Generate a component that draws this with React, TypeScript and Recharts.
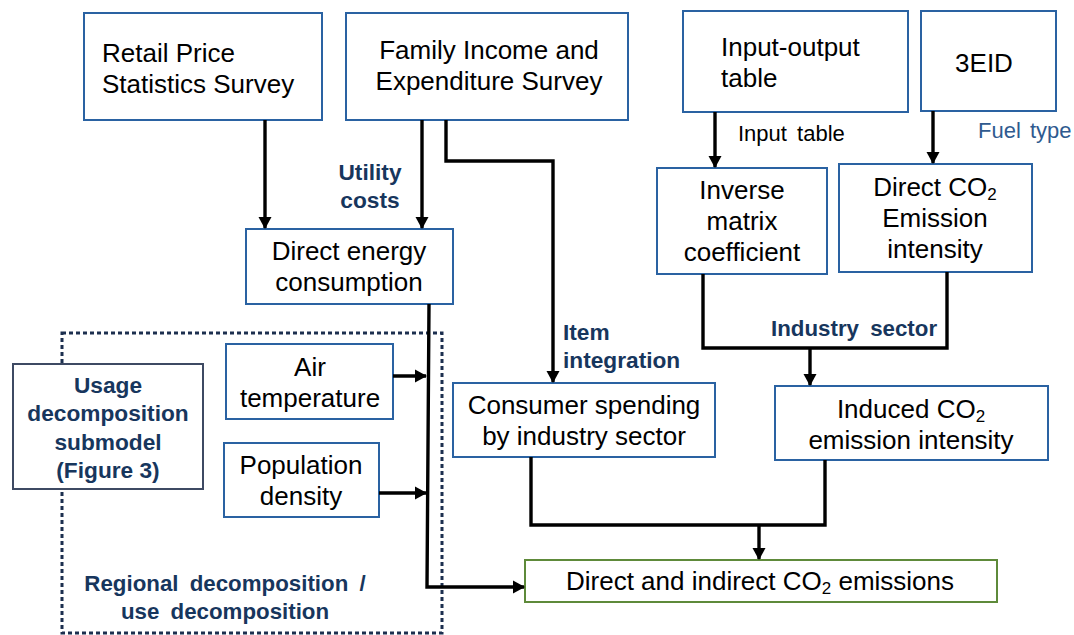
import { ComposedChart, XAxis, YAxis, Scatter, ReferenceArea } from 'recharts';

const W = 1074;
const H = 635;

// boxes, in chart units (x to the right, y downward)
const blueBoxes = [
  { id: 'retail', x1: 84, x2: 322, y1: 13, y2: 120 },
  { id: 'family', x1: 346, x2: 628, y1: 13, y2: 120 },
  { id: 'io', x1: 683, x2: 908, y1: 11, y2: 112 },
  { id: 'eid', x1: 921, x2: 1056, y1: 11, y2: 111 },
  { id: 'inverse', x1: 657, x2: 827, y1: 168, y2: 274 },
  { id: 'directCo2', x1: 839, x2: 1032, y1: 164, y2: 272 },
  { id: 'directEnergy', x1: 246, x2: 453, y1: 229, y2: 304 },
  { id: 'air', x1: 226, x2: 393, y1: 344, y2: 419 },
  { id: 'population', x1: 224, x2: 379, y1: 443, y2: 517 },
  { id: 'consumer', x1: 453, x2: 715, y1: 383, y2: 457 },
  { id: 'induced', x1: 775, x2: 1048, y1: 386, y2: 460 },
];
const submodelBox = { x1: 13, x2: 203, y1: 364, y2: 489 };
const resultBox = { x1: 525, x2: 997, y1: 560, y2: 602 };
const regionFrame = { x1: 62, x2: 442, y1: 333, y2: 633 };

// connector polylines
const connectors = [
  [{ x: 265, y: 120 }, { x: 265, y: 228 }],
  [{ x: 422, y: 120 }, { x: 422, y: 228 }],
  [{ x: 446, y: 120 }, { x: 446, y: 161 }, { x: 553, y: 161 }, { x: 553, y: 382 }],
  [{ x: 715, y: 112 }, { x: 715, y: 167 }],
  [{ x: 933, y: 111 }, { x: 933, y: 163 }],
  [{ x: 703, y: 274 }, { x: 703, y: 348 }, { x: 947, y: 348 }, { x: 947, y: 272 }],
  [{ x: 810, y: 348 }, { x: 810, y: 385 }],
  [{ x: 393, y: 376 }, { x: 426, y: 376 }],
  [{ x: 379, y: 493 }, { x: 426, y: 493 }],
  [{ x: 429, y: 304 }, { x: 427, y: 587 }, { x: 524, y: 587 }],
  [{ x: 531, y: 457 }, { x: 531, y: 525 }, { x: 825, y: 525 }, { x: 825, y: 460 }],
  [{ x: 759, y: 525 }, { x: 759, y: 559 }],
];

// arrow tips
const arrows = [
  { x: 265, y: 229, dir: 'down' },
  { x: 422, y: 229, dir: 'down' },
  { x: 553, y: 383, dir: 'down' },
  { x: 715, y: 168, dir: 'down' },
  { x: 933, y: 164, dir: 'down' },
  { x: 810, y: 386, dir: 'down' },
  { x: 759, y: 560, dir: 'down' },
  { x: 427, y: 376, dir: 'right' },
  { x: 427, y: 493, dir: 'right' },
  { x: 525, y: 587, dir: 'right' },
];

// texts: first line position, kind, anchor
const labels = [
  { x: 102, y: 53, kind: 'body', anchor: 'start', lines: ['Retail Price', 'Statistics Survey'] },
  { x: 489, y: 50, kind: 'body', anchor: 'middle', lines: ['Family Income and', 'Expenditure Survey'] },
  { x: 721, y: 47, kind: 'body', anchor: 'start', lines: ['Input-output', 'table'] },
  { x: 984, y: 63, kind: 'body', anchor: 'middle', lines: ['3EID'] },
  { x: 738, y: 133, kind: 'small', anchor: 'start', lines: ['Input table'] },
  { x: 978, y: 130, kind: 'fuel', anchor: 'start', lines: ['Fuel type'] },
  { x: 370, y: 172, kind: 'note', anchor: 'middle', lines: ['Utility', 'costs'] },
  { x: 349, y: 251, kind: 'body', anchor: 'middle', lines: ['Direct energy', 'consumption'] },
  { x: 742, y: 190, kind: 'body', anchor: 'middle', lines: ['Inverse', 'matrix', 'coefficient'] },
  { x: 935, y: 187, kind: 'body', anchor: 'middle', lines: ['Direct CO2', 'Emission', 'intensity'] },
  { x: 771, y: 328, kind: 'noteWide', anchor: 'start', lines: ['Industry sector'] },
  { x: 563, y: 332, kind: 'note', anchor: 'start', lines: ['Item', 'integration'] },
  { x: 108, y: 385, kind: 'note', anchor: 'middle', lines: ['Usage', 'decomposition', 'submodel', '(Figure 3)'] },
  { x: 310, y: 367, kind: 'body', anchor: 'middle', lines: ['Air', 'temperature'] },
  { x: 301, y: 465, kind: 'body', anchor: 'middle', lines: ['Population', 'density'] },
  { x: 584, y: 405, kind: 'body', anchor: 'middle', lines: ['Consumer spending', 'by industry sector'] },
  { x: 911, y: 409, kind: 'body', anchor: 'middle', lines: ['Induced CO2', 'emission intensity'] },
  { x: 225, y: 583, kind: 'noteWide', anchor: 'middle', lines: ['Regional decomposition /', 'use decomposition'] },
  { x: 760, y: 581, kind: 'body', anchor: 'middle', lines: ['Direct and indirect CO2 emissions'] },
];

const FONT = '"Liberation Sans", Arial, sans-serif';

const textStyles: Record<string, any> = {
  body: { fontSize: 26, fill: '#000', fontWeight: 400, lh: 31, wordSpacing: 0 },
  note: { fontSize: 22.7, fill: '#17365d', fontWeight: 700, lh: 28.3, wordSpacing: 0 },
  noteWide: { fontSize: 22.3, fill: '#17365d', fontWeight: 700, lh: 28, wordSpacing: 5 },
  small: { fontSize: 22, fill: '#000', fontWeight: 400, lh: 26, wordSpacing: 4 },
  fuel: { fontSize: 22, fill: '#2f5a8f', fontWeight: 400, lh: 26, wordSpacing: 3 },
};

const BLUE = '#2a62a2';

function withSubscript(s: string) {
  const parts = s.split('CO2');
  const out: any[] = [];
  parts.forEach((p, i) => {
    const txt = i < parts.length - 1 ? p + 'CO' : p;
    if (i === 0) {
      out.push(<tspan key={'p' + i}>{txt}</tspan>);
    } else {
      out.push(
        <tspan key={'r' + i} dy={-7}>
          {txt}
        </tspan>
      );
    }
    if (i < parts.length - 1) {
      out.push(
        <tspan key={'s' + i} dy={7} fontSize={17}>
          2
        </tspan>
      );
    }
  });
  return out;
}

const LabelShape = (props: any) => {
  const { cx, cy, payload } = props;
  const st = textStyles[payload.kind];
  return (
    <g>
      {payload.lines.map((line: string, i: number) => (
        <text
          key={i}
          x={cx}
          y={cy + i * st.lh}
          textAnchor={payload.anchor}
          dominantBaseline="central"
          fontFamily={FONT}
          fontSize={st.fontSize}
          fontWeight={st.fontWeight}
          fill={st.fill}
          style={{ whiteSpace: 'pre', wordSpacing: st.wordSpacing }}
        >
          {withSubscript(line)}
        </text>
      ))}
    </g>
  );
};

const ArrowShape = (props: any) => {
  const { cx, cy, payload } = props;
  const L = 12;
  const hw = 6.5;
  const d =
    payload.dir === 'down'
      ? `M${cx},${cy} L${cx - hw},${cy - L} L${cx + hw},${cy - L} Z`
      : `M${cx},${cy} L${cx - L},${cy - hw} L${cx - L},${cy + hw} Z`;
  return <path d={d} fill="#000" />;
};

const NoDot = () => <g />;

export default function App() {
  return (
    <div style={{ position: 'absolute', left: 0, top: 0, width: W, height: H, background: '#fff' }}>
      <ComposedChart width={W} height={H} margin={{ top: 0, right: 0, bottom: 0, left: 0 }}>
        <XAxis type="number" dataKey="x" domain={[0, W]} allowDataOverflow hide />
        <YAxis type="number" dataKey="y" domain={[0, H]} allowDataOverflow reversed hide />

        <ReferenceArea
          {...regionFrame}
          fill="#fff"
          fillOpacity={0}
          stroke="#1c2f4f"
          strokeWidth={3}
          strokeDasharray="4 3"
          ifOverflow="visible"
        />
        {blueBoxes.map((b) => (
          <ReferenceArea
            key={b.id}
            x1={b.x1}
            x2={b.x2}
            y1={b.y1}
            y2={b.y2}
            fill="#fff"
            fillOpacity={1}
            stroke={BLUE}
            strokeWidth={2}
          />
        ))}
        <ReferenceArea {...submodelBox} fill="#fff" fillOpacity={1} stroke="#3e4a63" strokeWidth={2} />
        <ReferenceArea {...resultBox} fill="#fff" fillOpacity={1} stroke="#5e8a3a" strokeWidth={2} />

        {connectors.map((pts, i) => (
          <Scatter
            key={'c' + i}
            data={pts}
            fill="#000"
            line={{ stroke: '#000', strokeWidth: 3.4, strokeLinejoin: 'miter', fill: 'none' }}
            shape={NoDot}
            isAnimationActive={false}
          />
        ))}
        <Scatter data={arrows} fill="#000" shape={ArrowShape} isAnimationActive={false} />
        <Scatter data={labels} fill="#000" shape={LabelShape} isAnimationActive={false} />
      </ComposedChart>
    </div>
  );
}
